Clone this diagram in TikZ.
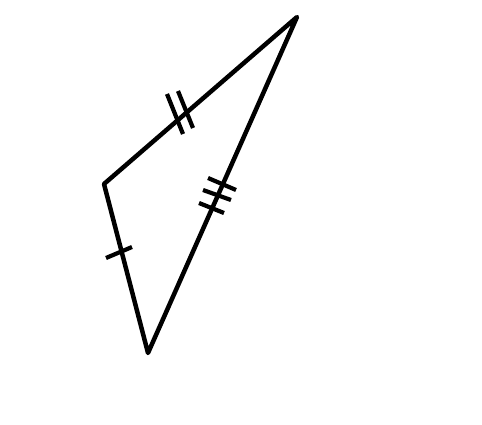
\documentclass[tikz,border=0pt]{standalone}
\begin{document}
\begin{tikzpicture}[x=1pt,y=-1pt,line width=4.5pt,line join=round,
  edge/.style={draw=black},
  tick/.style={draw=black,line width=4.2pt}]
\useasboundingbox (0,0) rectangle (482,425);
\coordinate (A) at (104,184);
\coordinate (B) at (297,17);
\coordinate (C) at (148,353);
\draw[edge] (A) -- (B) -- (C) -- cycle;
% double tick on AB
\draw[tick] (167,94) -- (183,134);
\draw[tick] (178,91) -- (193,128);
% triple tick on BC
\draw[tick] (208,178) -- (236,190);
\draw[tick] (203,190) -- (231,200);
\draw[tick] (199,203) -- (224,213);
% single tick on AC
\draw[tick] (106,258) -- (132,247);
\end{tikzpicture}
\end{document}
